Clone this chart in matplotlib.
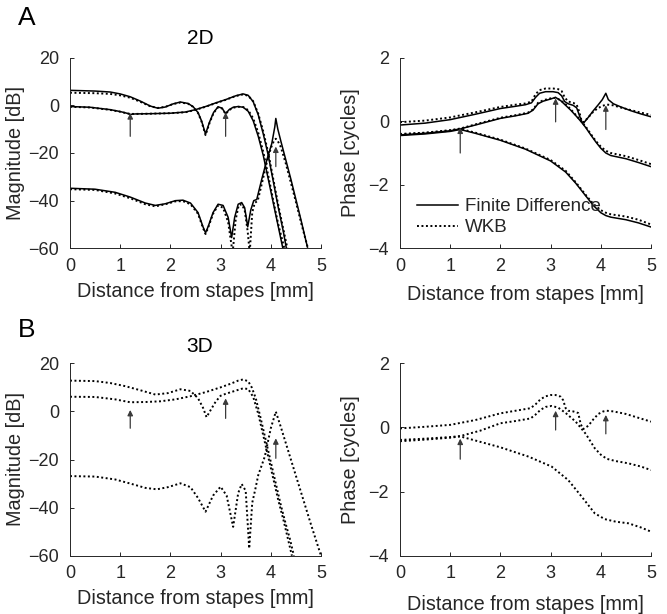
import matplotlib

matplotlib.use("Agg")
import matplotlib.pyplot as plt
from matplotlib.lines import Line2D

# ---- panel A, left: magnitude [dB], 2D model ----
magA_fd1_x = [0, 0.5, 0.8, 1.0, 1.2, 1.4, 1.6, 1.75, 1.9, 2.05, 2.2, 2.35, 2.45, 2.55, 2.62, 2.7, 2.78, 2.86,
              2.95, 3.03, 3.1, 3.17, 3.25, 3.35, 3.45, 3.55, 3.65, 3.75, 3.85, 3.95, 4.05, 4.15, 4.24]
magA_fd1_y = [6.3, 6.0, 5.6, 4.8, 3.6, 1.8, -0.3, -1.2, -0.7, 0.6, 1.4, 0.8, -0.5, -3.0, -6.5, -12.0, -7.0, -3.0,
              -0.6, -1.2, -3.5, -1.8, -0.8, -0.5, -0.8, -2.5, -6.5, -13, -21, -31, -41, -51, -60]
magA_wkb1_x = magA_fd1_x[:-1] + [4.27]
magA_wkb1_y = [5.3, 5.1, 4.8, 4.2, 3.2, 1.5, -0.4, -1.1, -0.6, 0.5, 1.2, 0.7, -0.6, -3.2, -6.8, -12.5, -7.4, -3.2,
               -0.8, -1.3, -3.6, -2.0, -1.0, -0.6, -0.7, -2.0, -5.5, -11.5, -19.5, -29.5, -40, -50, -60]

magA_fd2_x = [0, 0.4, 0.8, 1.0, 1.15, 1.2, 1.3, 1.6, 2.0, 2.3, 2.5, 2.7, 2.9, 3.1, 3.3, 3.45, 3.55, 3.65,
              3.75, 3.85, 3.95, 4.05, 4.15, 4.25, 4.31]
magA_fd2_y = [-0.5, -0.8, -1.8, -2.6, -3.4, -3.8, -3.6, -3.5, -3.3, -2.8, -1.8, -0.5, 1.0, 2.4, 4.0, 4.8, 4.2, 1.5,
              -4, -12, -21, -32, -43, -53, -60]
magA_wkb2_x = magA_fd2_x[:-1] + [4.33]
magA_wkb2_y = [-0.6, -0.9, -1.9, -2.7, -3.4, -3.6, -3.6, -3.5, -3.3, -2.9, -1.9, -0.6, 0.9, 2.3, 3.9, 4.6, 4.0, 1.7,
               -3.5, -11, -20, -31, -42, -52, -60]

magA_fd3_x = [0, 0.5, 0.9, 1.2, 1.5, 1.7, 1.9, 2.1, 2.25, 2.4, 2.55, 2.65, 2.7, 2.75, 2.85, 2.95, 3.05, 3.15,
              3.22, 3.28, 3.35, 3.42, 3.48, 3.54, 3.6, 3.66, 3.72, 3.82, 3.92, 4.02, 4.08, 4.1, 4.14, 4.2, 4.3,
              4.4, 4.5, 4.6, 4.73]
magA_fd3_y = [-34.8, -35.2, -36.5, -38.5, -41, -42, -41.3, -40, -39.8, -41, -45, -51, -53.5, -51, -45, -41.5,
              -42, -47, -55.5, -47, -41.5, -40.8, -43, -51, -44, -40, -39.5, -31, -23, -16, -9, -5.5, -10, -15,
              -23, -31, -39.5, -48, -59.5]
magA_wkb3_x = [0, 0.5, 0.9, 1.2, 1.5, 1.7, 1.9, 2.1, 2.25, 2.4, 2.55, 2.65, 2.7, 2.75, 2.85, 2.95, 3.05, 3.15,
               3.24, 3.3, 3.36, 3.42, 3.48, 3.54, 3.58, 3.63, 3.68, 3.74, 3.82, 3.92, 4.0, 4.06, 4.1, 4.14, 4.2,
               4.3, 4.4, 4.5, 4.6, 4.74]
magA_wkb3_y = [-35.2, -35.5, -37, -39, -41.5, -42.4, -41.5, -40.3, -40.2, -41.5, -45.5, -51.5, -54, -51.5,
               -45.5, -42, -43, -49, -62, -48, -42, -41.5, -44, -53, -62, -45, -41, -40, -33, -24, -18, -15,
               -14, -15, -17.5, -24.5, -32.5, -40.5, -49, -60]

# ---- panel A, right: phase [cycles], 2D model ----
phA_1_x = [0, 0.5, 1.0, 1.5, 2.0, 2.3, 2.5, 2.62, 2.7, 2.78, 2.9, 3.05, 3.15, 3.22, 3.28, 3.35, 3.45, 3.52,
           3.57, 3.62, 3.66, 3.75, 3.85, 3.95, 4.03, 4.1, 4.15, 4.25, 4.4, 4.6, 4.8, 5.0]
phA_fd1_y = [-0.12, -0.06, 0.05, 0.22, 0.4, 0.47, 0.52, 0.58, 0.75, 0.88, 0.93, 0.93, 0.9, 0.8, 0.62, 0.55,
             0.5, 0.42, 0.2, -0.02, -0.05, 0.12, 0.33, 0.52, 0.68, 0.88, 0.68, 0.55, 0.45, 0.33, 0.23, 0.14]
phA_wkb1_y = [-0.03, 0.02, 0.12, 0.28, 0.45, 0.52, 0.56, 0.62, 0.85, 0.98, 1.03, 1.03, 1.01, 0.95, 0.75, 0.62,
              0.58, 0.52, 0.3, 0.0, -0.03, 0.12, 0.3, 0.42, 0.48, 0.52, 0.52, 0.5, 0.43, 0.35, 0.27, 0.2]

phA_2_x = [0, 0.5, 1.0, 1.2, 1.5, 2.0, 2.3, 2.55, 2.65, 2.75, 2.85, 3.0, 3.1, 3.2, 3.3, 3.4, 3.5, 3.6, 3.7,
           3.8, 3.9, 4.0, 4.1, 4.2, 4.35, 4.5, 4.75, 5.0]
phA_fd2_y = [-0.43, -0.38, -0.3, -0.24, -0.12, 0.09, 0.17, 0.25, 0.35, 0.55, 0.63, 0.7, 0.75, 0.65, 0.5, 0.35,
             0.18, 0.0, -0.2, -0.43, -0.65, -0.85, -1.0, -1.08, -1.13, -1.18, -1.3, -1.43]
phA_wkb2_y = [-0.4, -0.36, -0.28, -0.23, -0.1, 0.11, 0.19, 0.27, 0.37, 0.58, 0.66, 0.72, 0.74, 0.66, 0.53,
              0.38, 0.2, 0.02, -0.17, -0.4, -0.62, -0.8, -0.93, -1.0, -1.05, -1.1, -1.22, -1.35]

phA_3_x = [0, 0.5, 1.0, 1.2, 1.5, 2.0, 2.5, 3.0, 3.3, 3.5, 3.7, 3.85, 4.0, 4.1, 4.2, 4.5, 4.75, 5.0]
phA_fd3_y = [-0.45, -0.4, -0.32, -0.26, -0.38, -0.6, -0.88, -1.25, -1.6, -1.95, -2.35, -2.65, -2.88, -2.97,
             -3.02, -3.1, -3.2, -3.33]
phA_wkb3_y = [-0.42, -0.37, -0.3, -0.24, -0.36, -0.58, -0.86, -1.22, -1.56, -1.92, -2.32, -2.6, -2.8, -2.88,
              -2.93, -3.0, -3.1, -3.25]

# ---- panel B, left: magnitude [dB], 3D model (WKB only) ----
magB_1_x = [0, 0.5, 0.8, 1.1, 1.4, 1.7, 1.95, 2.2, 2.4, 2.55, 2.65, 2.72, 2.8, 2.9, 3.0, 3.1, 3.25, 3.45,
            3.55, 3.65, 3.75, 3.85, 3.95, 4.05, 4.15, 4.25, 4.33, 4.42]
magB_1_y = [12.8, 12.6, 11.8, 10.5, 8.8, 7.0, 7.6, 9.2, 8.5, 5.5, 1.5, -2.4, 0.5, 4.0, 6.5, 7.3, 8.3, 9.6,
            9.3, 6.0, -1, -10, -19, -28, -37, -45, -52, -60]
magB_2_x = [0, 0.5, 0.9, 1.2, 1.5, 1.8, 2.1, 2.4, 2.7, 3.0, 3.2, 3.35, 3.45, 3.55, 3.62, 3.7, 3.8, 3.9, 4.0,
            4.1, 4.2, 4.3, 4.38, 4.46]
magB_2_y = [6.1, 6.0, 5.0, 3.8, 3.9, 4.2, 5.0, 6.3, 8.0, 10.0, 11.5, 12.8, 13.3, 12.5, 10, 5.5, -3, -12, -21,
            -30, -39, -47, -53, -60]
magB_3_x = [0, 0.5, 0.9, 1.2, 1.5, 1.73, 1.95, 2.2, 2.4, 2.55, 2.7, 2.85, 3.0, 3.12, 3.25, 3.35, 3.42, 3.5,
            3.57, 3.63, 3.69, 3.75, 3.88, 4.0, 4.1, 4.2, 4.4, 4.6, 4.8, 5.0]
magB_3_y = [-26.9, -27.1, -28.3, -30, -31.8, -32.4, -31.5, -29.9, -31.5, -36, -41.7, -35, -31.3, -35, -48,
            -34, -30.2, -33, -57, -38, -32.5, -26.5, -18.8, -7, -0.1, -6.5, -20, -33.5, -47, -60]

# ---- panel B, right: phase [cycles], 3D model (WKB only) ----
phB_1_x = [0, 0.5, 1.0, 1.5, 2.0, 2.3, 2.6, 2.7, 2.8, 2.9, 3.0, 3.1, 3.2, 3.25, 3.3, 3.35, 3.45, 3.55, 3.6,
           3.65, 3.75, 3.85, 3.95, 4.05, 4.12, 4.25, 4.5, 4.75, 5.0]
phB_1_y = [-0.03, 0.02, 0.08, 0.23, 0.44, 0.52, 0.6, 0.72, 0.88, 0.97, 1.01, 1.01, 0.96, 0.85, 0.6, 0.52, 0.5,
           0.45, 0.1, -0.05, 0.05, 0.25, 0.42, 0.5, 0.52, 0.5, 0.42, 0.3, 0.18]
phB_2_x = [0, 0.5, 1.0, 1.2, 1.6, 2.0, 2.3, 2.6, 2.7, 2.8, 2.9, 3.02, 3.15, 3.3, 3.5, 3.7, 3.88, 4.0, 4.12,
           4.3, 4.55, 4.8, 5.0]
phB_2_y = [-0.39, -0.35, -0.3, -0.27, -0.1, 0.13, 0.2, 0.28, 0.4, 0.55, 0.64, 0.67, 0.62, 0.45, 0.18, -0.2,
           -0.65, -0.85, -0.98, -1.05, -1.12, -1.22, -1.33]
phB_3_x = [0, 0.5, 1.0, 1.2, 1.6, 2.0, 2.56, 3.02, 3.35, 3.62, 3.88, 4.08, 4.3, 4.55, 4.8, 5.0]
phB_3_y = [-0.43, -0.38, -0.32, -0.28, -0.45, -0.62, -0.91, -1.22, -1.64, -2.16, -2.68, -2.86, -2.94, -2.99,
           -3.12, -3.25]

# arrows marking characteristic places (tail -> head)
arrow_x = [1.2, 3.1, 4.1]
arrA_mag_tail = [-13.0, -13.0, -25.7]
arrA_mag_head = [-3.3, -3.0, -17.3]
arrA_ph_tail = [-1.0, -0.02, -0.26]
arrA_ph_head = [-0.2, 0.72, 0.5]
arrB_mag_tail = [-7.0, -2.9, -19.5]
arrB_mag_head = [0.6, 5.4, -11.2]
arrB_ph_tail = [-0.99, -0.08, -0.2]
arrB_ph_head = [-0.35, 0.52, 0.39]

INK = "#262626"
plt.rcParams.update({"font.family": "Liberation Sans", "font.size": 13,
                     "axes.edgecolor": INK, "xtick.color": INK, "ytick.color": INK,
                     "axes.labelcolor": INK, "text.color": INK})

FD = dict(color="black", lw=1.1, ls="-")
WKB = dict(color="black", lw=1.4, ls=(0, (1, 1.3)))
LABEL_FS = 14.3

W, H = 667, 614
fig = plt.figure(figsize=(W / 100, H / 100), dpi=100)


def make_ax(x0, top, bottom):
    ax = fig.add_axes([x0 / W, 1 - bottom / H, 251 / W, (bottom - top) / H])
    ax.spines[["top", "right"]].set_visible(False)
    ax.spines[["left", "bottom"]].set_linewidth(0.7)
    ax.tick_params(direction="in", length=3, width=0.7, labelsize=13)
    ax.tick_params(axis="x", pad=7)
    ax.tick_params(axis="y", pad=8)
    ax.set_xlim(0, 5)
    ax.set_xticks(range(6))
    return ax


def arrows(ax, tails, heads):
    for x, t, h in zip(arrow_x, tails, heads):
        ax.annotate("", xy=(x, h), xytext=(x, t),
                    arrowprops=dict(arrowstyle="-|>", lw=0.9, color="#3a3a3a",
                                    mutation_scale=8, shrinkA=0, shrinkB=0))


axA1 = make_ax(70, 57.7, 248.3)
axA2 = make_ax(400, 57.7, 248.3)
axB1 = make_ax(70, 363.3, 555.7)
axB2 = make_ax(400, 363.3, 555.7)

for ax in (axA1, axB1):
    ax.set_ylim(-60, 20)
    ax.set_yticks([-60, -40, -20, 0, 20])
    ax.set_ylabel("Magnitude [dB]", fontsize=LABEL_FS, labelpad=2)
for ax in (axA2, axB2):
    ax.set_ylim(-4, 2)
    ax.set_yticks([-4, -2, 0, 2])
    ax.set_ylabel("Phase [cycles]", fontsize=LABEL_FS, labelpad=6)

axA1.set_xlabel("Distance from stapes [mm]", fontsize=LABEL_FS, labelpad=5)
axA2.set_xlabel("Distance from stapes [mm]", fontsize=LABEL_FS, labelpad=7)
axB1.set_xlabel("Distance from stapes [mm]", fontsize=LABEL_FS, labelpad=5)
axB2.set_xlabel("Distance from stapes [mm]", fontsize=LABEL_FS, labelpad=9)

# A left
axA1.plot(magA_fd1_x, magA_fd1_y, **FD)
axA1.plot(magA_fd2_x, magA_fd2_y, **FD)
axA1.plot(magA_fd3_x, magA_fd3_y, **FD)
axA1.plot(magA_wkb1_x, magA_wkb1_y, **WKB)
axA1.plot(magA_wkb2_x, magA_wkb2_y, **WKB)
axA1.plot(magA_wkb3_x, magA_wkb3_y, **WKB)
arrows(axA1, arrA_mag_tail, arrA_mag_head)

# A right
axA2.plot(phA_1_x, phA_fd1_y, **FD)
axA2.plot(phA_2_x, phA_fd2_y, **FD)
axA2.plot(phA_3_x, phA_fd3_y, **FD)
axA2.plot(phA_1_x, phA_wkb1_y, **WKB)
axA2.plot(phA_2_x, phA_wkb2_y, **WKB)
axA2.plot(phA_3_x, phA_wkb3_y, **WKB)
arrows(axA2, arrA_ph_tail, arrA_ph_head)
handles = [Line2D([], [], **FD), Line2D([], [], **WKB)]
axA2.legend(handles, ["Finite Difference", "WKB"], loc="lower left", bbox_to_anchor=(0.0, -0.025),
            frameon=False, handlelength=2.2, handletextpad=0.35, labelspacing=0.2, fontsize=13.5)

# B left
axB1.plot(magB_1_x, magB_1_y, **WKB)
axB1.plot(magB_2_x, magB_2_y, **WKB)
axB1.plot(magB_3_x, magB_3_y, **WKB)
arrows(axB1, arrB_mag_tail, arrB_mag_head)

# B right
axB2.plot(phB_1_x, phB_1_y, **WKB)
axB2.plot(phB_2_x, phB_2_y, **WKB)
axB2.plot(phB_3_x, phB_3_y, **WKB)
arrows(axB2, arrB_ph_tail, arrB_ph_head)

fig.text(18 / W, 1 - 18 / H, "A", fontsize=19, color="black", ha="left", va="center")
fig.text(200 / W, 1 - 38 / H, "2D", fontsize=15, color="black", ha="center", va="center")
fig.text(18 / W, 1 - 330 / H, "B", fontsize=19, color="black", ha="left", va="center")
fig.text(200 / W, 1 - 346 / H, "3D", fontsize=15, color="black", ha="center", va="center")

fig.savefig("out.png", dpi=100)
